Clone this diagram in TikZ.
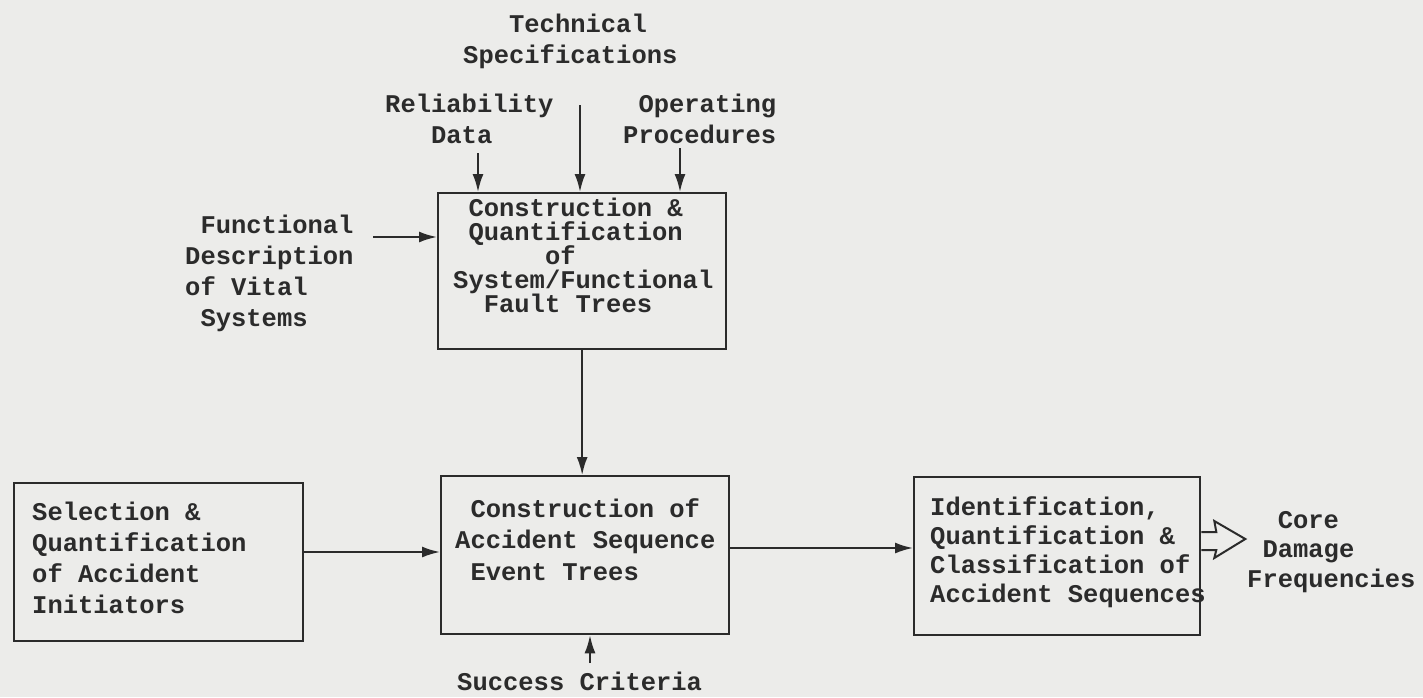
\documentclass[tikz,border=0pt]{standalone}
\usepackage{fontspec}
\setmonofont{Liberation Mono}[BoldFont={Liberation Mono Bold}]
\usetikzlibrary{arrows.meta}
\definecolor{paper}{HTML}{ECECEA}
\definecolor{ink}{HTML}{2B2B2B}
\newlength\chw
\setlength\chw{15.3pt}
\newcommand\ind[1]{\hspace*{#1\chw}}
\begin{document}
\begin{tikzpicture}[x=1pt,y=-1pt,
  % multi-line labels: the base anchor sits on the last line's baseline
  lbl/.style={inner sep=0pt, anchor=base west, align=left, text=ink,
    font=\ttfamily\bfseries\fontsize{25.5}{#1}\selectfont},
  box/.style={draw=ink, line width=2.3pt, inner sep=0pt, anchor=north west,
    minimum width=#1},
  flow/.style={draw=ink, line width=2pt, -{Latex[length=18pt,width=11pt]}}
]
\useasboundingbox (0,0) rectangle (1423,697);
\fill[paper] (0,0) rectangle (1423,697);

% boxes
\node[box=288pt, minimum height=156pt] (ft)  at (437,192) {};
\node[box=288pt, minimum height=158pt] (et)  at (440,475) {};
\node[box=289pt, minimum height=158pt] (sel) at (13,482) {};
\node[box=286pt, minimum height=158pt] (id)  at (913,476) {};

% box texts
\node[lbl=24] (ftT) at (453,312)
  {\ind{1}Construction \&\\\ind{1}Quantification\\\ind{6}of\\System/Functional\\\ind{2}Fault Trees};
\node[lbl=31.5] (etT) at (455,580)
  {\ind{1}Construction of\\Accident Sequence\\\ind{1}Event Trees};
\node[lbl=31] (selT) at (32,613)
  {Selection \&\\Quantification\\of Accident\\Initiators};
\node[lbl=29] (idT) at (930,602)
  {Identification,\\Quantification \&\\Classification of\\Accident Sequences};

% input and output labels
\node[lbl=31] (tech) at (463,63) {\ind{3}Technical\\Specifications};
\node[lbl=31] (rel)  at (385,143) {Reliability\\\ind{3}Data};
\node[lbl=31] (ops)  at (623,143) {\ind{1}Operating\\Procedures};
\node[lbl=31] (fdv)  at (185,326) {\ind{1}Functional\\Description\\of Vital\\\ind{1}Systems};
\node[lbl=31] (suc)  at (457,690) {Success Criteria};
\node[lbl=29.5] (cdf) at (1247,587) {\ind{2}Core\\\ind{1}Damage\\Frequencies};

% free ends of the input arrows
\coordinate (relS)  at (478,153);
\coordinate (techS) at (580,105);
\coordinate (opsS)  at (680,148);
\coordinate (fdvS)  at (373,237);
\coordinate (sucS)  at (590,663);

% connectors
\draw[flow] (relS)  -- (relS  |- ft.north);
\draw[flow] (techS) -- (techS |- ft.north);
\draw[flow] (opsS)  -- (opsS  |- ft.north);
\draw[flow] (fdvS)  -- (fdvS  -| ft.west);
\draw[flow] (ft.south) -- (ft.south |- et.north);
\draw[flow] (sel.east |- 0,552) -- (et.west |- 0,552);
\draw[flow] (et.east |- 0,548) -- (id.west |- 0,548);
\draw[flow] (sucS) -- (sucS |- et.south);

% hollow output arrow
\coordinate (oa) at (id.east |- 0,532);
\coordinate (ob) at (id.east |- 0,550);
\draw[ink, line width=2pt, line join=miter]
  (oa) -- ++(15,0) -- ++(-2,-11) -- ++(31,18) -- ++(-31,19) -- ++(2,-8) -- (ob);
\end{tikzpicture}
\end{document}
